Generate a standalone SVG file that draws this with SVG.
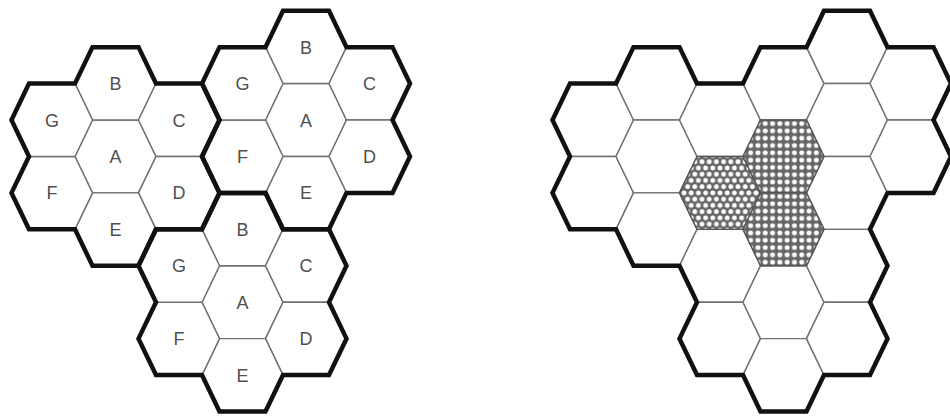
<svg xmlns="http://www.w3.org/2000/svg" width="950" height="419" viewBox="0 0 950 419">
<style>
.cell{fill:#fff;stroke:#707070;stroke-width:1.4}
.shsq{fill:url(#dotsSq);stroke:#555;stroke-width:1.4}
.shhx{fill:url(#dotsHex);stroke:#555;stroke-width:1.4}
.outline{fill:none;stroke:#111;stroke-width:4.5;stroke-linejoin:miter}
.lbl{font-family:"Liberation Sans",Arial,sans-serif;font-size:18px;fill:#505050;text-anchor:middle}
</style>
<defs>
<path id="hex" d="M-40.5,0 L-23,-36.44 L23,-36.44 L40.5,0 L23,36.44 L-23,36.44 Z"/>
<path id="cluster" d="M-23,-109.32 L23,-109.32 L40.5,-72.88 L86.5,-72.88 L104,-36.44 L86.5,0 L104,36.44 L86.5,72.88 L40.5,72.88 L23,109.32 L-23,109.32 L-40.5,72.88 L-86.5,72.88 L-104,36.44 L-86.5,0 L-104,-36.44 L-86.5,-72.88 L-40.5,-72.88 Z"/>
<pattern id="dotsSq" patternUnits="userSpaceOnUse" width="7.3" height="7.3">
<rect width="7.3" height="7.3" fill="#666"/>
<rect x="1.3" y="1.3" width="4.7" height="4.7" rx="1.6" fill="#fff"/>
</pattern>
<pattern id="dotsHex" patternUnits="userSpaceOnUse" width="7.2" height="12.47">
<rect width="7.2" height="12.47" fill="#666"/>
<circle cx="0" cy="0" r="2.4" fill="#fff"/>
<circle cx="7.2" cy="0" r="2.4" fill="#fff"/>
<circle cx="0" cy="12.47" r="2.4" fill="#fff"/>
<circle cx="7.2" cy="12.47" r="2.4" fill="#fff"/>
<circle cx="3.6" cy="6.235" r="2.4" fill="#fff"/>
</pattern>
</defs>
<rect width="950" height="419" fill="#fff"/>

<g id="left-diagram">
<g id="cluster1">
<g id="L1-A"><use href="#hex" class="cell" x="115.5" y="156.45"/><text class="lbl" x="115.5" y="162.95">A</text></g>
<g id="L1-B"><use href="#hex" class="cell" x="115.5" y="83.57"/><text class="lbl" x="115.5" y="90.07">B</text></g>
<g id="L1-C"><use href="#hex" class="cell" x="179" y="120.01"/><text class="lbl" x="179" y="126.51">C</text></g>
<g id="L1-D"><use href="#hex" class="cell" x="179" y="192.89"/><text class="lbl" x="179" y="199.39">D</text></g>
<g id="L1-E"><use href="#hex" class="cell" x="115.5" y="229.33"/><text class="lbl" x="115.5" y="235.83">E</text></g>
<g id="L1-F"><use href="#hex" class="cell" x="52" y="192.89"/><text class="lbl" x="52" y="199.39">F</text></g>
<g id="L1-G"><use href="#hex" class="cell" x="52" y="120.01"/><text class="lbl" x="52" y="126.51">G</text></g>
</g>
<g id="cluster2">
<g id="L2-A"><use href="#hex" class="cell" x="306" y="120.01"/><text class="lbl" x="306" y="126.51">A</text></g>
<g id="L2-B"><use href="#hex" class="cell" x="306" y="47.13"/><text class="lbl" x="306" y="53.63">B</text></g>
<g id="L2-C"><use href="#hex" class="cell" x="369.5" y="83.57"/><text class="lbl" x="369.5" y="90.07">C</text></g>
<g id="L2-D"><use href="#hex" class="cell" x="369.5" y="156.45"/><text class="lbl" x="369.5" y="162.95">D</text></g>
<g id="L2-E"><use href="#hex" class="cell" x="306" y="192.89"/><text class="lbl" x="306" y="199.39">E</text></g>
<g id="L2-F"><use href="#hex" class="cell" x="242.5" y="156.45"/><text class="lbl" x="242.5" y="162.95">F</text></g>
<g id="L2-G"><use href="#hex" class="cell" x="242.5" y="83.57"/><text class="lbl" x="242.5" y="90.07">G</text></g>
</g>
<g id="cluster3">
<g id="L3-A"><use href="#hex" class="cell" x="242.5" y="302.21"/><text class="lbl" x="242.5" y="308.71">A</text></g>
<g id="L3-B"><use href="#hex" class="cell" x="242.5" y="229.33"/><text class="lbl" x="242.5" y="235.83">B</text></g>
<g id="L3-C"><use href="#hex" class="cell" x="306" y="265.77"/><text class="lbl" x="306" y="272.27">C</text></g>
<g id="L3-D"><use href="#hex" class="cell" x="306" y="338.65"/><text class="lbl" x="306" y="345.15">D</text></g>
<g id="L3-E"><use href="#hex" class="cell" x="242.5" y="375.09"/><text class="lbl" x="242.5" y="381.59">E</text></g>
<g id="L3-F"><use href="#hex" class="cell" x="179" y="338.65"/><text class="lbl" x="179" y="345.15">F</text></g>
<g id="L3-G"><use href="#hex" class="cell" x="179" y="265.77"/><text class="lbl" x="179" y="272.27">G</text></g>
</g>
<g id="left-outlines">
<use href="#cluster" class="outline" x="115.5" y="156.45"/>
<use href="#cluster" class="outline" x="306" y="120.01"/>
<use href="#cluster" class="outline" x="242.5" y="302.21"/>
</g>
</g>

<g id="right-diagram" transform="translate(541,0)">
<g id="R-c0-1"><use href="#hex" class="cell" x="52" y="120.01"/></g>
<g id="R-c0-2"><use href="#hex" class="cell" x="52" y="192.89"/></g>
<g id="R-c1-1"><use href="#hex" class="cell" x="115.5" y="83.57"/></g>
<g id="R-c1-2"><use href="#hex" class="cell" x="115.5" y="156.45"/></g>
<g id="R-c1-3"><use href="#hex" class="cell" x="115.5" y="229.33"/></g>
<g id="R-c2-1"><use href="#hex" class="cell" x="179" y="120.01"/></g>
<g id="R-c2-3"><use href="#hex" class="cell" x="179" y="265.77"/></g>
<g id="R-c2-4"><use href="#hex" class="cell" x="179" y="338.65"/></g>
<g id="R-c3-1"><use href="#hex" class="cell" x="242.5" y="83.57"/></g>
<g id="R-c3-4"><use href="#hex" class="cell" x="242.5" y="302.21"/></g>
<g id="R-c3-5"><use href="#hex" class="cell" x="242.5" y="375.09"/></g>
<g id="R-c4-1"><use href="#hex" class="cell" x="306" y="47.13"/></g>
<g id="R-c4-2"><use href="#hex" class="cell" x="306" y="120.01"/></g>
<g id="R-c4-3"><use href="#hex" class="cell" x="306" y="192.89"/></g>
<g id="R-c4-4"><use href="#hex" class="cell" x="306" y="265.77"/></g>
<g id="R-c4-5"><use href="#hex" class="cell" x="306" y="338.65"/></g>
<g id="R-c5-1"><use href="#hex" class="cell" x="369.5" y="83.57"/></g>
<g id="R-c5-2"><use href="#hex" class="cell" x="369.5" y="156.45"/></g>
<g id="R-c2-2-shaded"><use href="#hex" class="shhx" x="179" y="192.89"/></g>
<g id="R-c3-2-shaded"><use href="#hex" class="shsq" x="242.5" y="156.45"/></g>
<g id="R-c3-3-shaded"><use href="#hex" class="shsq" x="242.5" y="229.33"/></g>
<g id="right-outline">
<path class="outline" d="M92.5,47.13 L138.5,47.13 L156,83.57 L202,83.57 L219.5,47.13 L265.5,47.13 L283,10.69 L329,10.69 L346.5,47.13 L392.5,47.13 L410,83.57 L392.5,120.01 L410,156.45 L392.5,192.89 L346.5,192.89 L329,229.33 L346.5,265.77 L329,302.21 L346.5,338.65 L329,375.09 L283,375.09 L265.5,411.53 L219.5,411.53 L202,375.09 L156,375.09 L138.5,338.65 L156,302.21 L138.5,265.77 L92.5,265.77 L75,229.33 L29,229.33 L11.5,192.89 L29,156.45 L11.5,120.01 L29,83.57 L75,83.57 Z"/>
</g>
</g>
</svg>
